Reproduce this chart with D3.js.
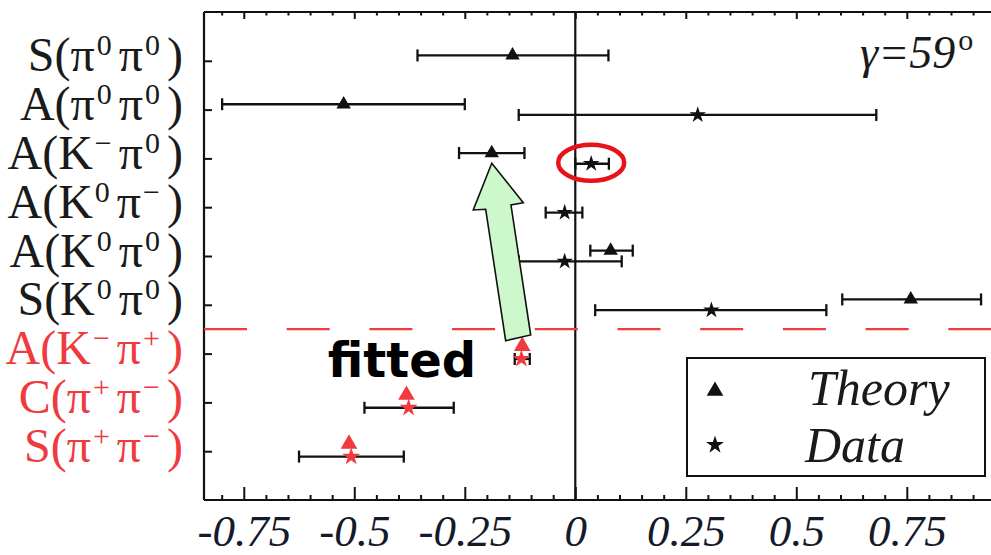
<!DOCTYPE html>
<html><head><meta charset="utf-8">
<script src="https://cdn.jsdelivr.net/npm/d3@7"></script>
<style>html,body{margin:0;padding:0;background:#fff;overflow:hidden}</style>
</head><body>
<svg id="c" width="991" height="555"></svg>
<script>
// ---- data ----
const categories = ["S(π^0π^0)","A(π^0π^0)","A(K^−π^0)","A(K^0π^−)","A(K^0π^0)","S(K^0π^0)","A(K^−π^+)","C(π^+π^−)","S(π^+π^−)"];
const fittedFlag = [false,false,false,false,false,false,true,true,true];
const theoryValue = [-0.142,-0.524,-0.189,null,0.080,0.759,-0.120,-0.382,-0.512];
const theoryLow   = [-0.357,-0.799,-0.263,null,0.034,0.604,null,null,null];
const theoryHigh  = [0.075,-0.250,-0.115,null,0.130,0.918,null,null,null];
const dataValue = [null,0.277,0.036,-0.024,-0.024,0.308,-0.122,-0.377,-0.507];
const dataLow   = [null,-0.128,0.000,-0.067,-0.128,0.045,-0.137,-0.477,-0.625];
const dataHigh  = [null,0.681,0.076,0.016,0.105,0.568,-0.103,-0.275,-0.388];
const xTicks = [-0.75,-0.5,-0.25,0,0.25,0.5,0.75];
const xTickLabels = ["-0.75","-0.5","-0.25","0","0.25","0.5","0.75"];
const legendLabels = ["Theory","Data"];
const gammaLabel = "γ=59";

// ---- layout ----
const svg = d3.select("#c");
const x = d3.scaleLinear().domain([-0.84, 0.95]).range([204, 995.2]);
const y = d3.scaleLinear().domain([0, 10]).range([12, 500]);
const off = 0.11;
const BLACK = "#111", RED = "#ef3a3e", SERIF = "'Liberation Serif','Times New Roman',serif";

// frame
const frame = svg.append("g").attr("stroke", BLACK).attr("stroke-width", 2.2);
frame.append("line").attr("x1", x.range()[0]).attr("x2", 991).attr("y1", y(0)).attr("y2", y(0));
frame.append("line").attr("x1", x.range()[0]).attr("x2", 991).attr("y1", y(10)).attr("y2", y(10));
frame.append("line").attr("x1", x.range()[0]).attr("x2", x.range()[0]).attr("y1", y(0)).attr("y2", y(10));

// ticks
const minor = d3.range(-80, 95, 5).map(v => v / 100).filter(v => !xTicks.some(t => Math.abs(t - v) < 1e-6));
const bottomMinor = d3.axisBottom(x).tickValues(minor).tickSize(-5).tickFormat("").tickSizeOuter(0);
const topMinor = d3.axisTop(x).tickValues(minor).tickSize(-3.5).tickFormat("").tickSizeOuter(0);
const bottomMajor = d3.axisBottom(x).tickValues(xTicks).tickSize(-13).tickPadding(14)
  .tickFormat((d, i) => xTickLabels[i]).tickSizeOuter(0);
const topMajor = d3.axisTop(x).tickValues(xTicks).tickSize(-7).tickFormat("").tickSizeOuter(0);
function styleAxis(g) {
  g.select(".domain").remove();
  g.selectAll(".tick line").attr("stroke", BLACK).attr("stroke-width", 2);
  g.selectAll(".tick text").attr("fill", "#151a2a").attr("font-family", SERIF)
    .attr("font-style", "italic").attr("font-size", 45);
}
svg.append("g").attr("transform", `translate(0,${y(10)})`).call(bottomMinor).call(styleAxis);
svg.append("g").attr("transform", `translate(0,${y(0)})`).call(topMinor).call(styleAxis);
svg.append("g").attr("transform", `translate(0,${y(10)})`).call(bottomMajor).call(styleAxis);
svg.append("g").attr("transform", `translate(0,${y(0)})`).call(topMajor).call(styleAxis);

// left ticks and labels
const leftAxis = d3.axisLeft(y).tickValues(d3.range(1, 10)).tickSize(-8).tickFormat("").tickSizeOuter(0);
svg.append("g").attr("transform", `translate(${x.range()[0]},0)`).call(leftAxis).call(styleAxis);

categories.forEach((lab, i) => {
  const t = svg.append("text").attr("x", 183).attr("y", y(i + 1) + 10.5)
    .attr("text-anchor", "end").attr("font-family", SERIF).attr("font-size", 48)
    .attr("fill", fittedFlag[i] ? RED : "#1a1a1a");
  let k = 0, raised = false;
  while (k < lab.length) {
    if (lab[k] === "^") {
      t.append("tspan").attr("font-size", 30).attr("dy", -16).attr("dx", 2).text(lab[k + 1]);
      raised = true; k += 2;
    } else {
      const s = t.append("tspan").text(lab[k]);
      if (raised) { s.attr("dy", 16).attr("dx", 7); raised = false; }
      k += 1;
    }
  }
});

// zero line
svg.append("line").attr("x1", x(0)).attr("x2", x(0)).attr("y1", y(0)).attr("y2", y(10))
  .attr("stroke", BLACK).attr("stroke-width", 2.2);

// separator dashed line
svg.append("line").attr("x1", x.range()[0]).attr("x2", 991).attr("y1", y(6.5)).attr("y2", y(6.5))
  .attr("stroke", RED).attr("stroke-width", 2.2).attr("stroke-dasharray", "43,39.7");

// error bars
function errorBars(lo, hi, dy) {
  const rows = d3.range(9).filter(i => lo[i] != null);
  const g = svg.append("g").attr("stroke", BLACK).attr("stroke-width", 2.3);
  rows.forEach(i => {
    const yy = y(i + 1 + dy);
    g.append("line").attr("x1", x(lo[i])).attr("x2", x(hi[i])).attr("y1", yy).attr("y2", yy);
    g.append("line").attr("x1", x(lo[i])).attr("x2", x(lo[i])).attr("y1", yy - 6).attr("y2", yy + 6);
    g.append("line").attr("x1", x(hi[i])).attr("x2", x(hi[i])).attr("y1", yy - 6).attr("y2", yy + 6);
  });
}
errorBars(theoryLow, theoryHigh, -off);
errorBars(dataLow, dataHigh, off);

// markers
const tri = d3.symbol().type(d3.symbolTriangle);
const star = d3.symbol().type(d3.symbolStar);
d3.range(9).filter(i => theoryValue[i] != null).forEach(i => {
  svg.append("path").attr("d", tri.size(fittedFlag[i] ? 120 : 90)())
    .attr("transform", `translate(${x(theoryValue[i])},${y(i + 1 - off) - (fittedFlag[i] ? 2 : 0)})`)
    .attr("fill", fittedFlag[i] ? RED : BLACK);
});
d3.range(9).filter(i => dataValue[i] != null).forEach(i => {
  svg.append("path").attr("d", star.size(fittedFlag[i] ? 100 : 85)())
    .attr("transform", `translate(${x(dataValue[i])},${y(i + 1 + off)})`)
    .attr("fill", fittedFlag[i] ? RED : BLACK);
});

// gamma label
const gl = svg.append("text").attr("x", 860).attr("y", 68).attr("font-family", SERIF)
  .attr("font-style", "italic").attr("font-size", 46).attr("fill", "#1a1a1a");
gl.append("tspan").text(gammaLabel);
gl.append("tspan").attr("font-size", 30).attr("font-style", "normal").attr("dy", -18).attr("dx", 3).text("o");

// legend
const lg = svg.append("g");
lg.append("rect").attr("x", 687).attr("y", 358).attr("width", 298).attr("height", 118)
  .attr("fill", "#fff").attr("stroke", BLACK).attr("stroke-width", 2);
lg.append("path").attr("d", tri.size(120)()).attr("transform", "translate(715,391)").attr("fill", BLACK);
lg.append("path").attr("d", star.size(100)()).attr("transform", "translate(715,445)").attr("fill", BLACK);
lg.selectAll("text.lg").data(legendLabels).join("text").attr("class", "lg")
  .attr("x", (d, i) => i === 0 ? 808 : 805).attr("y", (d, i) => i === 0 ? 405 : 462)
  .attr("font-family", SERIF).attr("font-style", "italic").attr("font-size", 50)
  .attr("fill", "#1a1a1a").text(d => d);

// annotations: red ellipse around data point of row 3
svg.append("ellipse").attr("cx", x(dataValue[2])).attr("cy", y(3 + off) - 1)
  .attr("rx", 33).attr("ry", 18).attr("fill", "none").attr("stroke", "#e8121a").attr("stroke-width", 4.5);

// green arrow (data coordinates)
const arrowPts = [[-0.189, 3.10], [-0.1176, 3.908], [-0.1455, 3.955], [-0.1009, 6.619],
                  [-0.1575, 6.736], [-0.2027, 4.043], [-0.2308, 4.057]];
svg.append("polygon").attr("points", arrowPts.map(p => [x(p[0]), y(p[1])].join(",")).join(" "))
  .attr("fill", "#ccf8cc").attr("stroke", BLACK).attr("stroke-width", 1.6).attr("stroke-linejoin", "miter");

svg.append("text").attr("x", x(-0.56)).attr("y", y(7.47))
  .attr("font-family", "'Comic Sans MS','DejaVu Sans',sans-serif").attr("font-weight", "bold")
  .attr("font-size", 48).attr("fill", "#000").text("fitted");
</script>
</body></html>
